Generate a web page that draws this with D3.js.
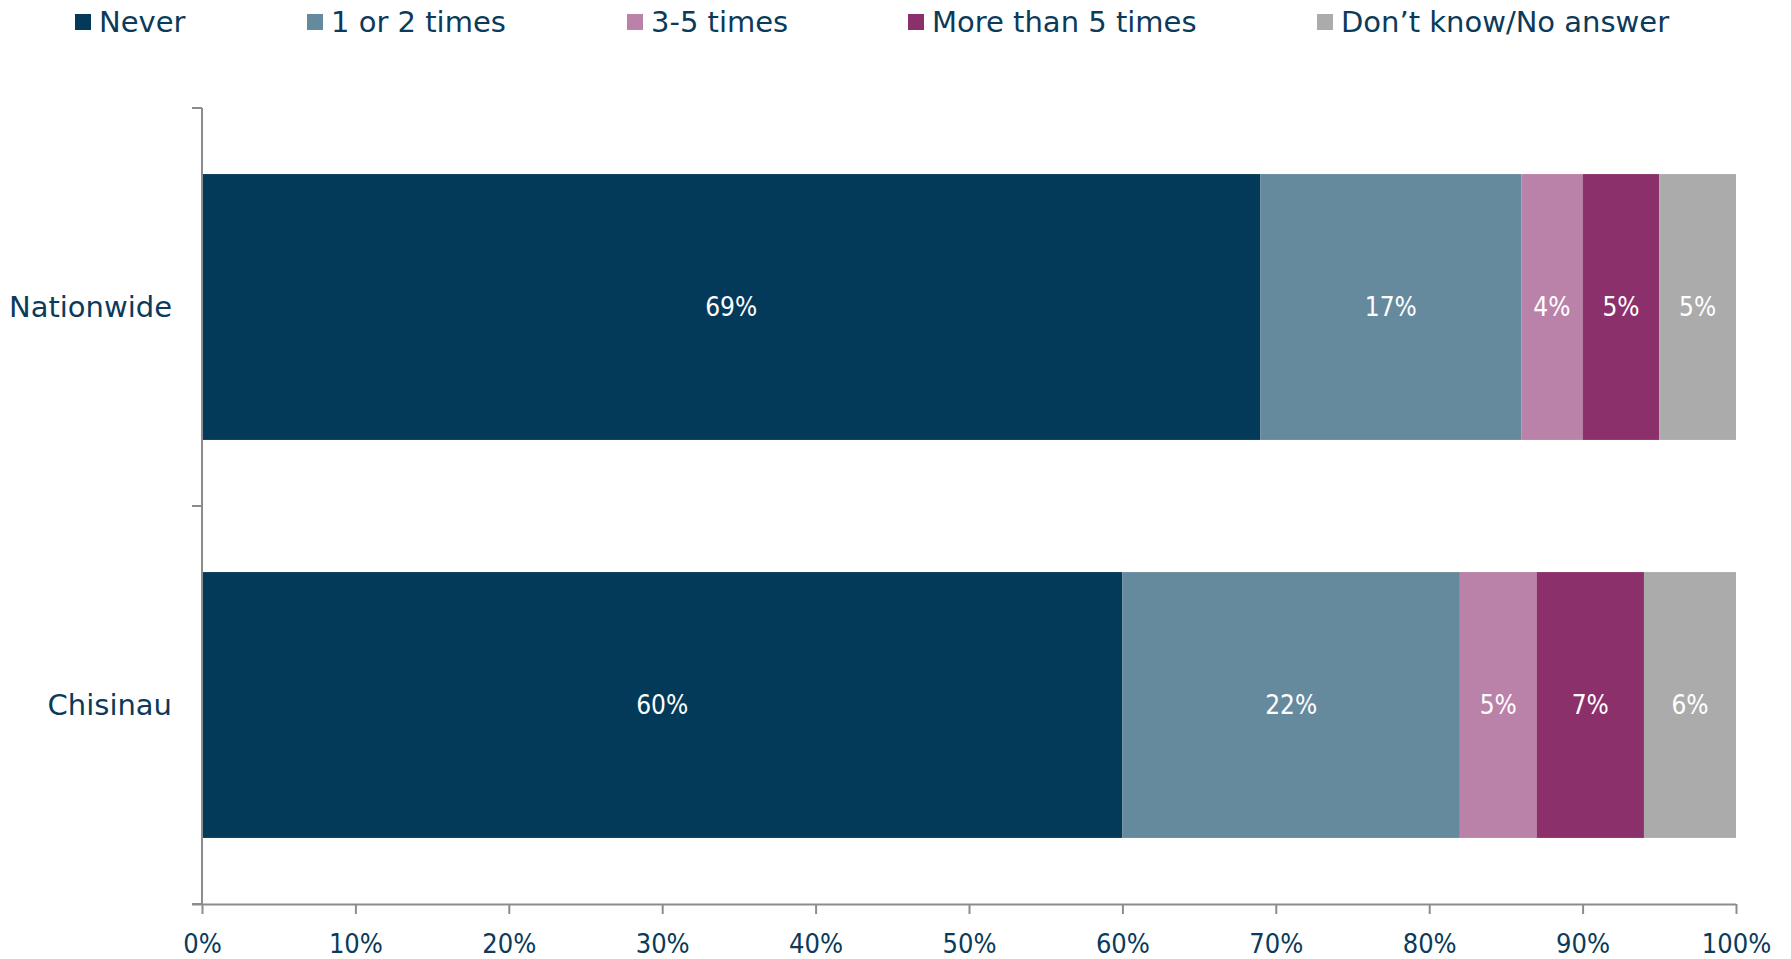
<!DOCTYPE html>
<html><head><meta charset="utf-8">
<script src="https://cdn.jsdelivr.net/npm/d3@7"></script>
<style>
html,body{margin:0;padding:0;background:#fff;}
text{font-family:"DejaVu Sans Condensed","DejaVu Sans",sans-serif;}
</style></head>
<body><svg id="c" width="1791" height="959"></svg>
<script>
const categories = ["Nationwide", "Chisinau"];
const seriesNames = ["Never", "1 or 2 times", "3-5 times", "More than 5 times", "Don\u2019t know/No answer"];
const never = [69, 60];
const oneOrTwo = [17, 22];
const threeToFive = [4, 5];
const moreThanFive = [5, 7];
const dontKnow = [5, 6];
const xTicks = [0, 10, 20, 30, 40, 50, 60, 70, 80, 90, 100];
const colors = ["#033a5a", "#668a9d", "#bb82a9", "#8b306b", "#ababab"];

(function () {
const series = [never, oneOrTwo, threeToFive, moreThanFive, dontKnow];
const svg = d3.select("#c");
const mL = 202, mR = 1736, mT = 108, mB = 904;
const textColor = "#0b3a5a";
const axisColor = "#8c8c8c";
const wideFont = '"DejaVu Sans",sans-serif';

const x = d3.scaleLinear().domain([0, 100]).range([mL, mR]);
const y = d3.scaleBand().domain(categories).range([mT, mB]).paddingInner(0.332).paddingOuter(0.166);

const rows = categories.map((c, i) => {
  let acc = 0;
  return series.map((s, k) => { const d = {cat: c, k, v: s[i], x0: acc, x1: acc + s[i]}; acc += s[i]; return d; });
});

const g = svg.append("g");
rows.forEach(r => {
  g.selectAll(null).data(r).enter().append("rect")
    .attr("x", d => x(d.x0)).attr("width", d => x(d.x1) - x(d.x0))
    .attr("y", d => y(d.cat)).attr("height", y.bandwidth())
    .attr("fill", d => colors[d.k]);
  g.selectAll(null).data(r).enter().append("text")
    .attr("x", d => (x(d.x0) + x(d.x1)) / 2)
    .attr("y", d => y(d.cat) + y.bandwidth() / 2)
    .attr("dy", "0.36em").attr("text-anchor", "middle")
    .attr("fill", "#fff").attr("font-size", 26)
    .text(d => d.v + "%");
});

const xa = svg.append("g").attr("transform", `translate(0,${mB})`)
  .call(d3.axisBottom(x).tickValues(xTicks).tickFormat(d => d + "%").tickSize(10).tickSizeOuter(0));
xa.select(".domain").attr("stroke", axisColor).attr("stroke-width", 2).attr("d", `M${mL - 10},0.5H${mR}`);
xa.selectAll(".tick line").attr("stroke", axisColor).attr("stroke-width", 2);
xa.selectAll(".tick text").attr("fill", textColor).attr("font-size", 27).attr("y", 39).attr("dy", "0.36em")
  .style("font-family", '"DejaVu Sans Condensed","DejaVu Sans",sans-serif');

svg.append("line").attr("x1", mL).attr("x2", mL).attr("y1", mT).attr("y2", mB)
  .attr("stroke", axisColor).attr("stroke-width", 2);
const bounds = [mT, (mT + mB) / 2, mB];
svg.selectAll(null).data(bounds).enter().append("line")
  .attr("x1", mL - 10).attr("x2", mL).attr("y1", d => d).attr("y2", d => d)
  .attr("stroke", axisColor).attr("stroke-width", 2);
svg.selectAll(null).data(categories).enter().append("text")
  .attr("x", mL - 30).attr("y", d => y(d) + y.bandwidth() / 2).attr("dy", "0.36em")
  .attr("text-anchor", "end").attr("fill", textColor).attr("font-size", 29)
  .style("font-family", wideFont)
  .text(d => d);

const legX = [75, 307, 627, 908, 1317];
const leg = svg.selectAll(null).data(seriesNames).enter().append("g")
  .attr("transform", (d, i) => `translate(${legX[i]},22)`);
leg.append("rect").attr("x", 0).attr("y", -8).attr("width", 16).attr("height", 16)
  .attr("fill", (d, i) => colors[i]);
leg.append("text").attr("x", 24).attr("y", 0).attr("dy", "0.36em")
  .attr("fill", textColor).attr("font-size", 29).style("font-family", wideFont)
  .text(d => d);
})();
</script></body></html>
